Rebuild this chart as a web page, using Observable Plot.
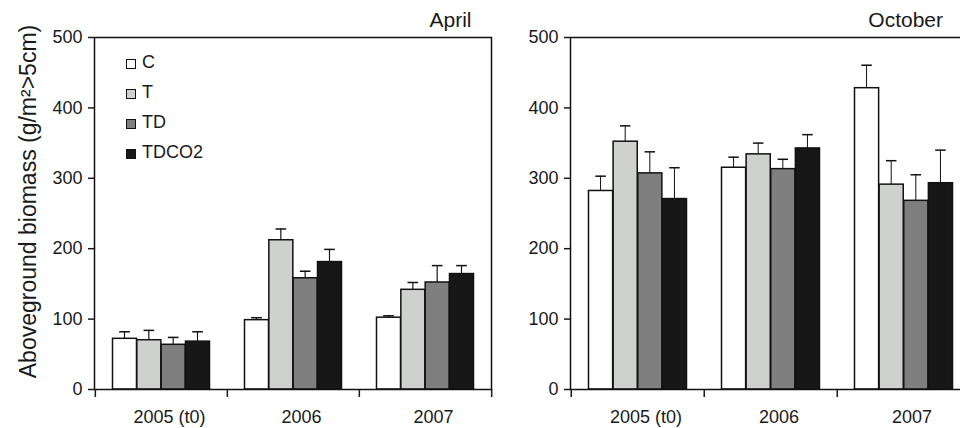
<!DOCTYPE html>
<html><head><meta charset="utf-8">
<script src="https://cdn.jsdelivr.net/npm/d3@7"></script>
<script src="https://cdn.jsdelivr.net/npm/@observablehq/plot@0.6"></script>
<style>
body{margin:0;background:#fff;font-family:"Liberation Sans",Arial,sans-serif;}
#wrap{position:relative;width:960px;height:428px;overflow:hidden;background:#fff;}
#wrap svg{position:absolute;top:0;}
.legend{position:absolute;left:126px;top:49px;font-size:18px;color:#1a1a1a;}
.legend div{height:30px;display:flex;align-items:center;}
.legend .sw{width:10px;height:10px;border:1.5px solid #111;box-sizing:border-box;margin-right:6px;flex:none;}
.legend .lab{position:relative;top:-2px;}
</style></head>
<body><div id="wrap"></div>
<script>
const years = ["2005 (t0)", "2006", "2007"];
const treatments = ["C", "T", "TD", "TDCO2"];
const fills = ["#ffffff", "#cfd1cf", "#7f7f7f", "#171717"];
// values ordered year by year, treatments C, T, TD, TDCO2
const aprilMean = [72, 70, 63.5, 68, 98.5, 212, 158, 181, 102, 141.6, 152, 164];
const aprilErr = [10, 14, 10.5, 14, 3.5, 16, 10, 18, 2.7, 10.4, 24, 12];
const octoberMean = [282, 352, 307, 270.5, 315, 334, 313, 342.4, 428, 291, 268, 293];
const octoberErr = [21, 22.5, 30.6, 44.5, 15, 16, 14, 19.6, 32.6, 34, 37, 47];
const yTicks = [0, 100, 200, 300, 400, 500];
const yTitle = "Aboveground biomass (g/m²>5cm)";

function panel({means, errs, width, ml, mr, title, titleDx, yLabel}) {
  const rows = [];
  years.forEach((y, yi) => treatments.forEach((t, ti) => {
    const k = yi * 4 + ti;
    rows.push({year: y, treatment: t, mean: means[k], top: means[k] + errs[k]});
  }));
  const band = (width - ml - mr) / 3;
  const pad = 17.5, bw = (band - 2 * pad) / 4;
  const marks = [];
  treatments.forEach((t, i) => {
    const d = rows.filter(r => r.treatment === t);
    const l = pad + bw * i, c = l + bw / 2;
    marks.push(Plot.barY(d, {x: "year", y1: "mean", y2: "top", fill: "#111",
      insetLeft: c - 0.75, insetRight: band - c - 0.75}));
    marks.push(Plot.tickY(d, {x: "year", y: "top", stroke: "#111", strokeWidth: 1.5,
      insetLeft: c - 5.5, insetRight: band - c - 5.5}));
    marks.push(Plot.barY(d, {x: "year", y: "mean", fill: fills[i], stroke: "#111", strokeWidth: 1.5,
      insetLeft: l, insetRight: band - l - bw}));
  });
  marks.push(Plot.frame({stroke: "#111", strokeWidth: 1.5}));
  marks.push(Plot.axisY({ticks: yTicks, tickSize: 6, tickPadding: 6, fontSize: 18, label: null, strokeWidth: 1.5}));
  marks.push(Plot.axisX({tickSize: 8, tickFormat: () => "", dx: -band / 2, label: null, strokeWidth: 1.5}));
  marks.push(Plot.axisX({ticks: [years[2]], tickSize: 8, tickFormat: () => "", dx: band / 2, label: null, strokeWidth: 1.5}));
  marks.push(Plot.axisX({tickSize: 0, tickPadding: 21, fontSize: 18, dx: 8, label: null}));
  marks.push(Plot.text([title], {frameAnchor: "top-right", dx: titleDx, dy: -10.3, textAnchor: "end",
    lineAnchor: "bottom", fontSize: 21, fill: "#1a1a1a"}));
  if (yLabel) marks.push(Plot.text([yLabel], {frameAnchor: "left", rotate: -90, dx: 28 - ml, dy: -12,
    textAnchor: "middle", lineAnchor: "middle", fontSize: 23, fill: "#1a1a1a"}));
  return Plot.plot({
    width, height: 428, marginLeft: ml, marginRight: mr, marginTop: 37, marginBottom: 39,
    style: {fontFamily: "Liberation Sans, Arial, sans-serif", fontSize: "18px", color: "#1a1a1a", background: "transparent"},
    x: {type: "band", domain: years, padding: 0, label: null},
    y: {domain: [0, 500], label: null},
    marks
  });
}

const wrap = document.getElementById("wrap");
const left = panel({means: aprilMean, errs: aprilErr, width: 500, ml: 94, mr: 9, title: "April", titleDx: -20, yLabel: yTitle});
left.style.left = "0px";
const right = panel({means: octoberMean, errs: octoberErr, width: 500, ml: 90, mr: 9.5, title: "October", titleDx: -28});
right.style.left = "480px";
wrap.appendChild(left);
wrap.appendChild(right);

const legend = document.createElement("div");
legend.className = "legend";
treatments.forEach((t, i) => {
  const row = document.createElement("div");
  const sw = document.createElement("span");
  sw.className = "sw";
  sw.style.background = fills[i];
  const lab = document.createElement("span");
  lab.className = "lab";
  lab.textContent = t;
  row.appendChild(sw); row.appendChild(lab);
  legend.appendChild(row);
});
wrap.appendChild(legend);
</script>
</body></html>
